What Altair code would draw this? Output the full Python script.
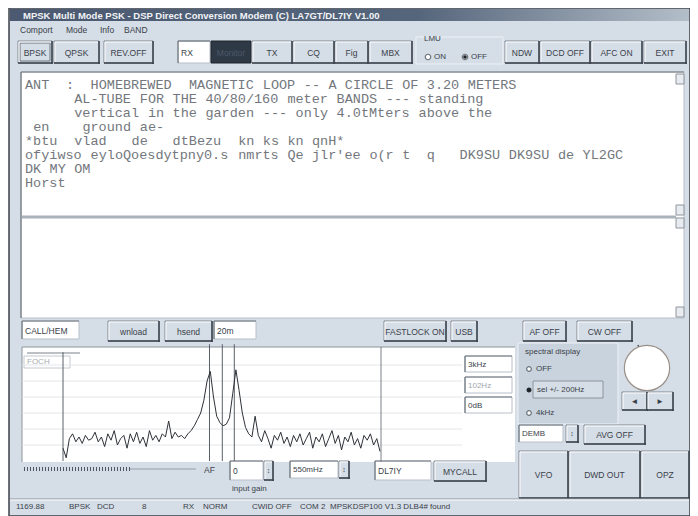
import re
import altair as alt
import pandas as pd

# ---------------- values ----------------
title_text = "MPSK Multi Mode PSK - DSP Direct Conversion Modem (C) LA7GT/DL7IY V1.00"
menu_labels = ["Comport", "Mode", "Info", "BAND"]
toolbar_labels = ["BPSK", "QPSK", "REV.OFF", "RX", "Monitor", "TX", "CQ", "Fig",
                  "MBX", "NDW", "DCD OFF", "AFC ON", "EXIT"]
lmu_labels = ["LMU", "ON", "OFF"]
rx_lines = [
    "ANT  :  HOMEBREWED  MAGNETIC LOOP -- A CIRCLE OF 3.20 METERS",
    "      AL-TUBE FOR THE 40/80/160 meter BANDS --- standing",
    "      vertical in the garden --- only 4.0tMters above the",
    " en    ground ae-",
    "*btu  vlad   de   dtBezu  kn ks kn qnH*",
    "ofyiwso eyloQoesdytpny0.s nmrts Qe jlr'ee o(r t  q   DK9SU DK9SU de YL2GC",
    "DK MY OM",
    "Horst",
]
row2_labels = ["CALL/HEM", "wnload", "hsend", "20m", "FASTLOCK ON", "USB", "AF OFF", "CW OFF"]
readout_labels = ["3kHz", "102Hz", "0dB"]
spectral_labels = ["spectral display", "OFF", "sel +/- 200Hz", "4kHz"]
lower_labels = ["AF", "0", "input gain", "550mHz", "DL7IY", "MYCALL",
                "DEMB", "AVG OFF", "VFO", "DWD OUT", "OPZ"]
status_labels = ["1169.88", "BPSK", "DCD", "8", "RX", "NORM", "CWID OFF", "COM 2",
                 "MPSKDSP100 V1.3 DLB4# found"]
spectrum_label = "FOCH"

# spectrum trace: 100 bins, 40 Hz apart, level in dB
spec_freq_hz = [i * 40 for i in range(100)]
spec_level_db = [8, 2, 14, 17, 12, 15, 11, 16, 13, 14,
                 18, 12, 15, 9, 17, 13, 19, 10, 14, 16,
                 8, 17, 12, 18, 11, 15, 9, 19, 13, 16,
                 12, 17, 15, 25, 14, 18, 15, 16, 14, 17,
                 19, 22, 26, 30, 38, 50, 56, 40, 28, 24,
                 22, 23, 27, 42, 57, 44, 30, 21, 17, 15,
                 28, 16, 12, 19, 14, 8, 16, 13, 18, 11,
                 15, 9, 16, 12, 17, 10, 14, 18, 8, 15,
                 12, 17, 9, 14, 19, 11, 16, 7, 15, 12,
                 18, 10, 14, 8, 16, 13, 17, 10, 14, 6]
cursor_hz = [1830, 1990, 2140]
grid_db = [10, 20, 30, 40, 50, 60]

# ---------------- styling / layout ----------------
BG = "#d5dde6"
PANEL = "#c9d3dd"
WHITE = "#ffffff"
EDGE = "#7f8892"
DARK = "#3a424c"
TXT = "#39414a"
CHAR_W = 8.2

XS = alt.Scale(domain=[8, 690], range=[0, 682], nice=False, zero=False)
YS = alt.Scale(domain=[8, 516], range=[0, 508], nice=False, zero=False)

rects = []   # x, y, x2, y2, fill, stroke, sw
rules = []   # x, y, x2, y2, c, sw
texts_l = []  # x, y, t, fs, c
texts_c = []
bold_l = []
mono = []
dots = []    # x, y, size, fill, stroke


def button(x, y, x2, y2, label, fs=8.5):
    rects.append((x, y, x2, y2, BG, EDGE, 1))
    rules.append((x + 1, y + 1, x2 - 1, y + 1, WHITE, 1))
    rules.append((x + 1, y + 1, x + 1, y2 - 1, WHITE, 1))
    rules.append((x, y2, x2 + 1, y2, DARK, 1.5))
    rules.append((x2, y, x2, y2 + 1, DARK, 1.5))
    texts_c.append(((x + x2) / 2, (y + y2) / 2 + 0.5, label, fs, TXT))


def field(x, y, x2, y2, label="", fs=8.5, c=TXT):
    rects.append((x, y, x2, y2, WHITE, "#b8c0c8", 1))
    rules.append((x, y, x2, y, "#6c747c", 1.2))
    rules.append((x, y, x, y2, "#6c747c", 1.2))
    if label:
        texts_l.append((x + 3, (y + y2) / 2 + 0.5, label, fs, c))


# window frame and background
rects.append((9, 8, 690, 516, BG, "#3c4048", 1.5))

# title bar
title_bar = (10, 9, 689, 21)
bold_l.append((23, 15.5, title_text, 9.5, "#f2f4f8"))
rects.append((11, 10, 20, 19, "#c8d0d8", "#5a6470", 1))
for (a, b) in [(657, 666), (667, 676), (678, 687)]:
    rects.append((a, 11, b, 19, "#dfe4ea", "#555d66", 1))

# menu
for lab, x in zip(menu_labels, [20, 66, 100, 124]):
    texts_l.append((x, 30, lab, 8.5, TXT))

# toolbar
tb_pos = [(18, 52), (54, 99), (104, 153), (178, 210), (211, 251), (252, 292), (293, 334),
          (335, 368), (369, 412), (505, 539), (540, 590), (591, 642), (644, 686)]
for lab, (a, b) in zip(toolbar_labels, tb_pos):
    if lab == "RX":
        field(a, 41, b, 63, lab)
    elif lab == "Monitor":
        rects.append((a, 41, b, 63, "#2f3946", "#1f252d", 1))
        texts_c.append(((a + b) / 2, 52.5, lab, 8.5, "#4b5868"))
    else:
        button(a, 41, b, 63, lab)
rects.append((20, 43, 50, 61, "rgba(0,0,0,0)", "#6c747c", 1))  # pressed BPSK inner frame
# LMU radio group
rects.append((416, 37, 503, 64, "rgba(0,0,0,0)", "#eef2f6", 1))
texts_l.append((424, 39, lmu_labels[0], 8, TXT))
texts_l.append((434, 57, lmu_labels[1], 8, TXT))
texts_l.append((471, 57, lmu_labels[2], 8, TXT))
dots.append((428, 57, 30, WHITE, "#6c747c"))
dots.append((465, 57, 30, WHITE, "#6c747c"))
dots.append((465, 57, 6, "#1d2228", "#1d2228"))

# receive text window: every word placed at its character column
field(21, 72, 684, 318)
rules.append((22, 217, 676, 217, "#aab2ba", 3))
for (a, b) in [(74, 84), (205, 215), (218, 228), (307, 317)]:
    rects.append((676, a, 684, b, "#e8ecf0", "#8c949c", 1))
for i, line in enumerate(rx_lines):
    for m in re.finditer(r"\S+", line):
        mono.append((25 + m.start() * CHAR_W, 85 + i * 14, m.group(), 13.5, "#73777d"))

# second row
field(22, 321, 79, 339, row2_labels[0])
button(108, 321, 159, 341, row2_labels[1])
button(165, 321, 212, 341, row2_labels[2])
field(214, 321, 256, 339, row2_labels[3])
button(384, 321, 446, 341, row2_labels[4])
button(451, 321, 477, 341, row2_labels[5])
button(523, 321, 566, 341, row2_labels[6])
button(577, 321, 632, 341, row2_labels[7])

# spectrum area
rects.append((22, 347, 515, 462, WHITE, WHITE, 0))
rules.append((22, 347, 515, 347, "#8c949c", 1))
rules.append((22, 347, 22, 462, "#8c949c", 1))
for g in grid_db:
    yy = 461 - 1.6 * g
    rules.append((22, yy, 462, yy, "#e2e6ea", 1))
rules.append((381, 347, 381, 462, "#7a8088", 1))
rules.append((27, 353, 80, 353, "#7a8088", 1))
rects.append((24, 356, 70, 368, WHITE, "#c4cad0", 1))
texts_l.append((27, 362, spectrum_label, 8, "#a6adb4"))
for lab, (a, b) in zip(readout_labels, [(356, 372), (377, 393), (397, 413)]):
    field(465, a, 512, b, lab, 8, "#a0a6ac" if lab == "102Hz" else TXT)

# spectral display group
rects.append((518, 343, 618, 424, PANEL, "#eef2f6", 1))
texts_l.append((525, 352, spectral_labels[0], 8, TXT))
texts_l.append((536, 369, spectral_labels[1], 8, TXT))
rects.append((533, 381, 603, 398, BG, "#8c949c", 1))
texts_l.append((537, 390, spectral_labels[2], 8, TXT))
texts_l.append((536, 413, spectral_labels[3], 8, TXT))
dots.append((529, 369, 22, WHITE, "#6c747c"))
dots.append((529, 390, 14, "#1d2228", "#1d2228"))
dots.append((529, 413, 22, WHITE, "#6c747c"))

# tuning dial
dots.append((647, 368, 2050, WHITE, "#9a9088"))
rules.append((638, 345, 648, 368, "#4a5058", 1.5))
button(622, 392, 647, 410, "\u25c4", 8)
button(647, 392, 673, 410, "\u25ba", 8)

# averaging
field(519, 425, 563, 442, lower_labels[6], 8)
button(566, 425, 578, 442, "\u2195", 7)
button(584, 425, 645, 444, lower_labels[7])

# big buttons
button(519, 451, 568, 498, lower_labels[8])
button(569, 451, 640, 498, lower_labels[9])
button(641, 451, 689, 498, lower_labels[10])

# bottom-left controls
rules.append((130, 469, 196, 469, "#b4bec8", 2))
texts_l.append((204, 470, lower_labels[0], 8.5, TXT))
field(230, 461, 263, 480, lower_labels[1])
button(264, 461, 273, 480, "\u2195", 7)
texts_l.append((232, 489, lower_labels[2], 8, TXT))
field(290, 461, 338, 478, lower_labels[3], 8)
button(339, 461, 349, 478, "\u2195", 7)
field(375, 461, 431, 480, lower_labels[4])
button(434, 461, 486, 481, lower_labels[5])

# status bar
rules.append((10, 499, 689, 499, "#8c949c", 1))
rules.append((10, 500, 689, 500, WHITE, 1))
for lab, x in zip(status_labels, [16, 69, 97, 142, 183, 203, 252, 300, 330]):
    texts_l.append((x, 507, lab, 8, TXT))

# ---------------- charts ----------------
rect_df = pd.DataFrame(rects, columns=["x", "y", "x2", "y2", "fill", "stroke", "sw"])
rule_df = pd.DataFrame(rules, columns=["x", "y", "x2", "y2", "c", "sw"])
tl_df = pd.DataFrame(texts_l, columns=["x", "y", "t", "fs", "c"])
tc_df = pd.DataFrame(texts_c, columns=["x", "y", "t", "fs", "c"])
tb_df = pd.DataFrame(bold_l, columns=["x", "y", "t", "fs", "c"])
mono_df = pd.DataFrame(mono, columns=["x", "y", "t", "fs", "c"])
dot_df = pd.DataFrame(dots, columns=["x", "y", "s", "fill", "stroke"])
title_df = pd.DataFrame([title_bar], columns=["x", "y", "x2", "y2"])

X = alt.X("x:Q", scale=XS, axis=None)
Y = alt.Y("y:Q", scale=YS, axis=None)

rect_layer = alt.Chart(rect_df).mark_rect().encode(
    x=X, x2="x2:Q", y=Y, y2="y2:Q",
    fill=alt.Fill("fill:N", scale=None),
    stroke=alt.Stroke("stroke:N", scale=None),
    strokeWidth=alt.StrokeWidth("sw:Q", scale=None))

title_layer = alt.Chart(title_df).mark_rect(
    color=alt.LinearGradient(gradient="linear", x1=0, x2=1, y1=0, y2=0, stops=[
        alt.GradientStop(color="#4b5a70", offset=0),
        alt.GradientStop(color="#55657b", offset=0.6),
        alt.GradientStop(color="#b4bec9", offset=1)])
).encode(x=X, x2="x2:Q", y=Y, y2="y2:Q")

rule_layer = alt.Chart(rule_df).mark_rule().encode(
    x=X, x2="x2:Q", y=Y, y2="y2:Q",
    color=alt.Color("c:N", scale=None),
    strokeWidth=alt.StrokeWidth("sw:Q", scale=None))

slider_df = pd.DataFrame([(24, 469, 130, 469)], columns=["x", "y", "x2", "y2"])
slider_layer = alt.Chart(slider_df).mark_rule(
    strokeDash=[1, 2], strokeWidth=4, color="#4a5866"
).encode(x=X, x2="x2:Q", y=Y, y2="y2:Q")

dot_layer = alt.Chart(dot_df).mark_point(filled=True, shape="circle", opacity=1, strokeWidth=1.2).encode(
    x=X, y=Y,
    size=alt.Size("s:Q", scale=None),
    fill=alt.Fill("fill:N", scale=None),
    stroke=alt.Stroke("stroke:N", scale=None))


def text_layer(df, align, font, weight="normal"):
    return alt.Chart(df).mark_text(align=align, baseline="middle", font=font,
                                   fontWeight=weight).encode(
        x=X, y=Y, text="t:N",
        size=alt.Size("fs:Q", scale=None),
        color=alt.Color("c:N", scale=None))


ui = alt.layer(
    rect_layer, title_layer, rule_layer, slider_layer, dot_layer,
    text_layer(tl_df, "left", "Liberation Sans"),
    text_layer(tb_df, "left", "Liberation Sans", "bold"),
    text_layer(tc_df, "center", "Liberation Sans"),
    text_layer(mono_df, "left", "Liberation Mono"),
)

# spectrum drawn through its own frequency / level scales
FX = alt.Scale(domain=[0, 3960], range=[55, 372], nice=False, zero=False)
FY = alt.Scale(domain=[0, 70], range=[453, 341], nice=False, zero=False)

spec_df = pd.DataFrame({"f": spec_freq_hz, "db": spec_level_db})
cur_df = pd.DataFrame({"f": cursor_hz + [0], "lo": [0, 0, 0, 0], "hi": [73, 73, 73, 68]})

spec_line = alt.Chart(spec_df).mark_line(color="#2e3238", strokeWidth=1).encode(
    x=alt.X("f:Q", scale=FX, axis=None), y=alt.Y("db:Q", scale=FY, axis=None))
cursors = alt.Chart(cur_df).mark_rule(color="#5a6068", strokeWidth=1).encode(
    x=alt.X("f:Q", scale=FX, axis=None), y=alt.Y("lo:Q", scale=FY, axis=None), y2="hi:Q")

spec = alt.layer(cursors, spec_line)

chart = alt.layer(ui, spec).resolve_scale(x="independent", y="independent").properties(
    width=682, height=508, autosize="none", padding=0, background="white"
).configure_view(stroke=None)

chart.save("out.html", embed_options={"renderer": "svg", "actions": False})
